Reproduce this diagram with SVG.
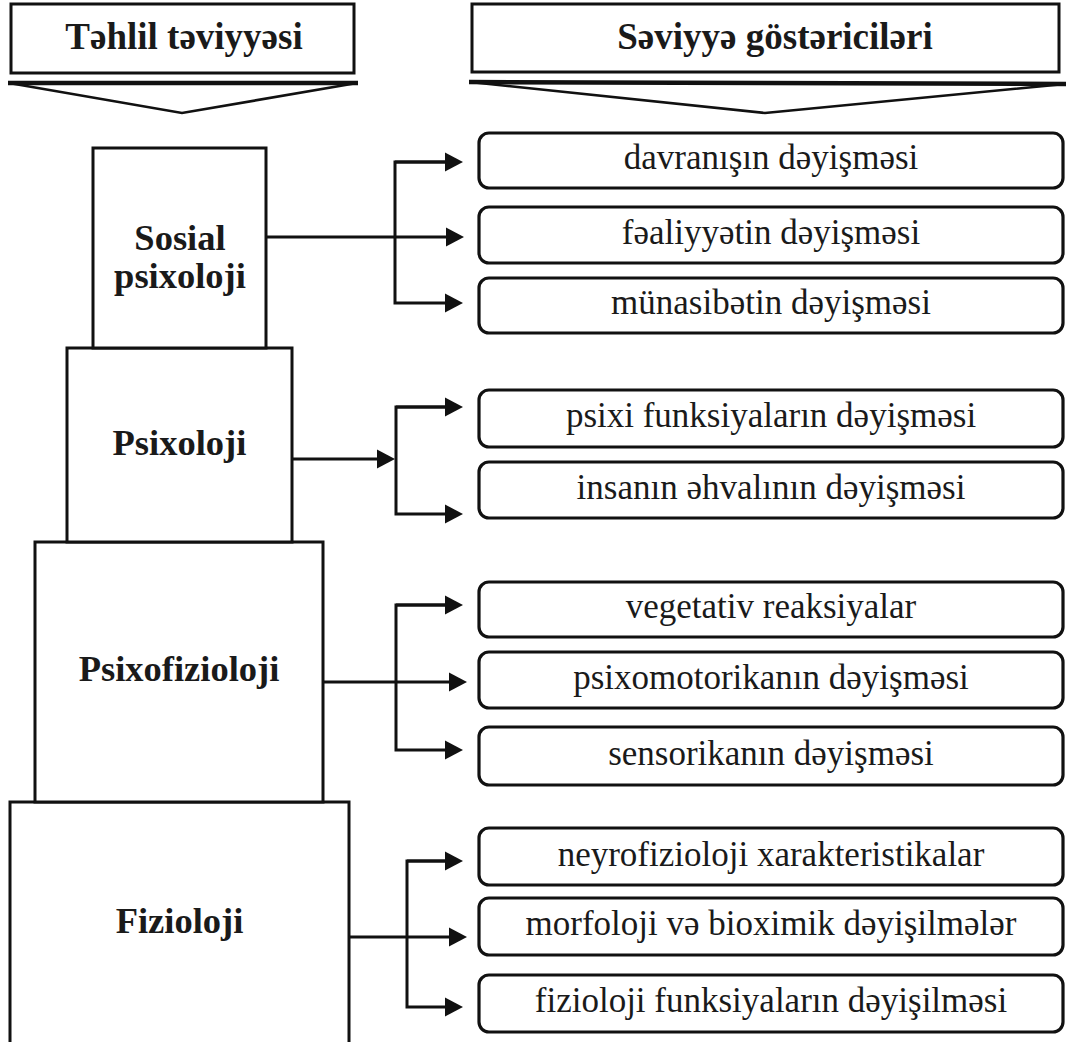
<svg xmlns="http://www.w3.org/2000/svg" width="1067" height="1042" viewBox="0 0 1067 1042">
<defs>
<style>
.bx{fill:#fff;stroke:#111;stroke-width:3}
.rb{fill:#fff;stroke:#111;stroke-width:3.2}
.hd{font-family:"Liberation Serif","DejaVu Serif",serif;font-weight:bold;font-size:37px;fill:#1a1a1a;text-anchor:middle}
.lt{font-family:"Liberation Serif","DejaVu Serif",serif;font-weight:bold;font-size:36.5px;fill:#1a1a1a;text-anchor:middle}
.rt{font-family:"Liberation Serif","DejaVu Serif",serif;font-size:35px;fill:#1a1a1a;text-anchor:middle}
.cn{fill:none;stroke:#111;stroke-width:3}
.ch{fill:none;stroke:#111;stroke-width:2.6;stroke-linejoin:miter}
.chtop{stroke:#111;stroke-width:4.5}
</style>
<marker id="ar" markerUnits="userSpaceOnUse" viewBox="0 0 18 20" refX="10" refY="10" markerWidth="18" markerHeight="20" orient="auto">
<path d="M0,0.5 L18,10 L0,19.5 Z" fill="#111"/>
</marker>
</defs>

<g id="header-left">
<rect class="bx" x="11" y="4" width="343" height="69"/>
<text class="hd" x="184" y="49">Təhlil təviyyəsi</text>
<polygon class="ch" points="9,83 357,83 182,113"/>
<line class="chtop" x1="8" y1="83" x2="358" y2="83"/>
</g>

<g id="header-right">
<rect class="bx" x="472" y="4" width="587" height="68"/>
<text class="hd" x="775" y="49">Səviyyə göstəriciləri</text>
<polygon class="ch" points="470,82 1065,84 765,113"/>
<line class="chtop" x1="469" y1="82" x2="1066" y2="84"/>
</g>

<g id="fizioloji">
<rect class="bx" x="10" y="802" width="339" height="250"/>
<text class="lt" x="179.5" y="933">Fizioloji</text>
</g>
<g id="psixofizioloji">
<rect class="bx" x="35" y="542" width="288" height="260"/>
<text class="lt" x="179" y="681">Psixofizioloji</text>
</g>
<g id="psixoloji">
<rect class="bx" x="67" y="348" width="225" height="194"/>
<text class="lt" x="179.5" y="455">Psixoloji</text>
</g>
<g id="sosial-psixoloji">
<rect class="bx" x="93" y="148" width="173" height="200"/>
<text class="lt" x="180" y="250">Sosial</text>
<text class="lt" x="180" y="288">psixoloji</text>
</g>

<g id="ind1"><rect class="rb" x="479" y="133" width="584" height="55" rx="10"/><text class="rt" x="771" y="169">davranışın dəyişməsi</text></g>
<g id="ind2"><rect class="rb" x="479" y="207" width="584" height="56" rx="10"/><text class="rt" x="771" y="244">fəaliyyətin dəyişməsi</text></g>
<g id="ind3"><rect class="rb" x="479" y="278" width="584" height="55" rx="10"/><text class="rt" x="771" y="314">münasibətin dəyişməsi</text></g>
<g id="ind4"><rect class="rb" x="479" y="390" width="584" height="57" rx="10"/><text class="rt" x="771" y="427">psixi funksiyaların dəyişməsi</text></g>
<g id="ind5"><rect class="rb" x="479" y="462" width="584" height="56" rx="10"/><text class="rt" x="771" y="499">insanın əhvalının dəyişməsi</text></g>
<g id="ind6"><rect class="rb" x="479" y="582" width="584" height="55" rx="10"/><text class="rt" x="771" y="618">vegetativ reaksiyalar</text></g>
<g id="ind7"><rect class="rb" x="479" y="652" width="584" height="56" rx="10"/><text class="rt" x="771" y="689">psixomotorikanın dəyişməsi</text></g>
<g id="ind8"><rect class="rb" x="479" y="727" width="584" height="58" rx="10"/><text class="rt" x="771" y="765">sensorikanın dəyişməsi</text></g>
<g id="ind9"><rect class="rb" x="479" y="828" width="584" height="57" rx="10"/><text class="rt" x="771" y="866">neyrofizioloji xarakteristikalar</text></g>
<g id="ind10"><rect class="rb" x="479" y="898" width="584" height="57" rx="10"/><text class="rt" x="771" y="935">morfoloji və bioximik dəyişilmələr</text></g>
<g id="ind11"><rect class="rb" x="479" y="975" width="584" height="57" rx="10"/><text class="rt" x="771" y="1012">fizioloji funksiyaların dəyişilməsi</text></g>

<g id="connectors">
<path class="cn" d="M266,237 H456" marker-end="url(#ar)"/>
<path class="cn" d="M455,162 H395 V303 H455" marker-end="url(#ar)"/>
<path class="cn" d="M395,162 H455" marker-end="url(#ar)"/>

<path class="cn" d="M292,459 H387" marker-end="url(#ar)"/>
<path class="cn" d="M455,407 H396 V514 H455" marker-end="url(#ar)"/>
<path class="cn" d="M396,407 H455" marker-end="url(#ar)"/>

<path class="cn" d="M323,682 H459" marker-end="url(#ar)"/>
<path class="cn" d="M455,605 H396 V750 H455" marker-end="url(#ar)"/>
<path class="cn" d="M396,605 H455" marker-end="url(#ar)"/>

<path class="cn" d="M349,937 H459" marker-end="url(#ar)"/>
<path class="cn" d="M455,861 H407 V1007 H455" marker-end="url(#ar)"/>
<path class="cn" d="M407,861 H455" marker-end="url(#ar)"/>
</g>
</svg>
